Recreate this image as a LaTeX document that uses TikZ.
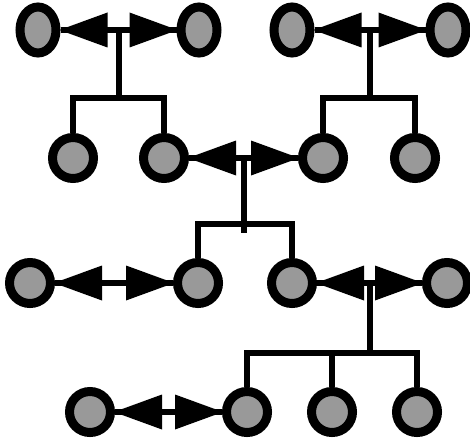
\documentclass[tikz,border=0pt]{standalone}
\usetikzlibrary{shapes.geometric,calc}
\begin{document}
\begin{tikzpicture}[x=1pt,y=-1pt,
 person/.style={circle,draw=black,line width=9pt,fill=black!40,minimum size=41pt,inner sep=0pt},
 topperson/.style={ellipse,draw=black,line width=9pt,fill=black!40,minimum width=36pt,minimum height=46pt,inner sep=0pt},
 couple/.style={line width=6.5pt},
 headL/.style={fill=black},
 kin/.style={line width=6pt,line join=miter}]
\useasboundingbox (0,0) rectangle (470,441);
% row 1
\node[topperson] (a1) at (38,30) {};
\node[topperson] (a2) at (199,30) {};
\node[topperson] (a3) at (292,30) {};
\node[topperson] (a4) at (448,30) {};
% row 2
\node[person] (b1) at (73,158) {};
\node[person] (b2) at (164,158) {};
\node[person] (b3) at (323,158) {};
\node[person] (b4) at (415,158) {};
% row 3
\node[person] (c1) at (30,283) {};
\node[person] (c2) at (198,283) {};
\node[person] (c3) at (292,283) {};
\node[person] (c4) at (447,283) {};
% row 4
\node[person] (d1) at (90,412) {};
\node[person] (d2) at (247,412) {};
\node[person] (d3) at (332,412) {};
\node[person] (d4) at (417,412) {};
% couples: line plus two large triangular heads
\foreach \p/\q in {a1/a2,a3/a4,b2/b3,c1/c2,c3/c4,d1/d2}{
  \draw[couple] (\p.east) -- (\q.west);
  \fill[headL] ($(\p.east)+(-1,0)$) -- ++(48,-17.5) -- ++(0,35) -- cycle;
  \fill[headL] ($(\q.west)+(1,0)$) -- ++(-48,-17.5) -- ++(0,35) -- cycle;
}
% midpoints and bars
\coordinate (m1) at ($(a1)!0.5!(a2)$);
\coordinate (m2) at ($(a3)!0.5!(a4)$);
\coordinate (m3) at ($(b2)!0.5!(b3)$);
\coordinate (m4) at ($(c3)!0.5!(c4)$);
\coordinate (bar1) at ($(m1)+(0,68)$);
\coordinate (bar2) at ($(m2)+(0,68)$);
\coordinate (bar3) at ($(m3)+(0,66)$);
\coordinate (bar4) at ($(m4)+(0,70)$);
\coordinate (tick3) at ($(bar3)+(0,9)$);
% descent lines
\draw[kin] (m1) -- (bar1);
\draw[kin] (b1) |- (bar1) -| (b2);
\draw[kin] (m2) -- (bar2);
\draw[kin] (b3) |- (bar2) -| (b4);
\draw[kin] (m3) -- (tick3);
\draw[kin] (c2) |- (bar3) -| (c3);
\draw[kin] (m4) -- (bar4);
\draw[kin] (d2) |- (bar4) -| (d4);
\draw[kin] (d3) -- (d3 |- bar4);
\end{tikzpicture}
\end{document}
